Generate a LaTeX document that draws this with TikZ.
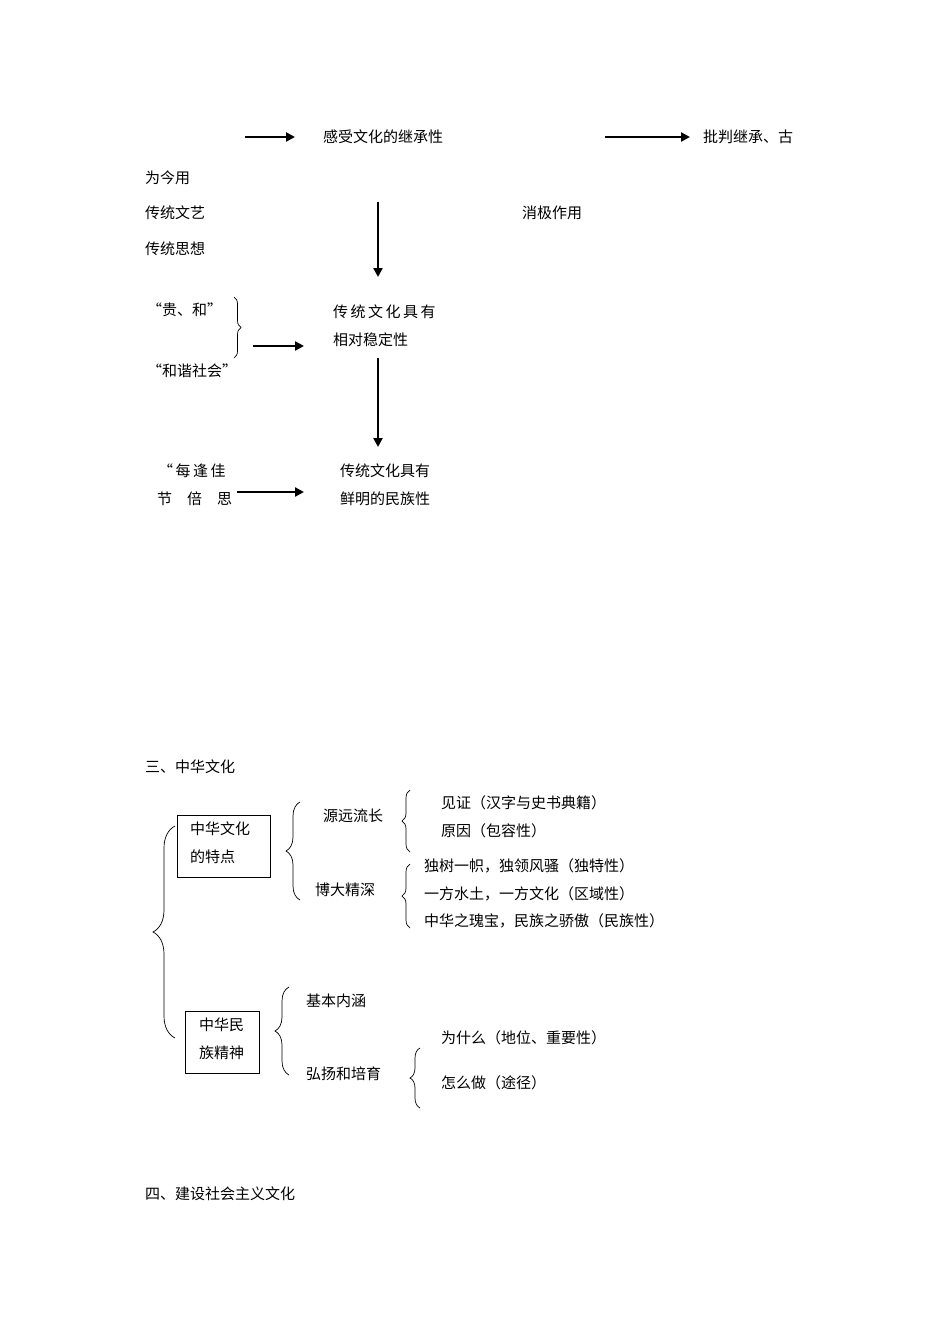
\documentclass[tikz,border=0pt]{standalone}
\usepackage{fontspec}
\setmainfont{Noto Sans CJK SC}
\usetikzlibrary{arrows.meta,decorations.pathreplacing}
\begin{document}
\begin{tikzpicture}[x=1pt,y=-1pt,
  t/.style={anchor=west,inner sep=0pt,font=\fontsize{15}{18}\selectfont},
  arr/.style={line width=2.6pt,-{Triangle[length=9pt,width=9pt]}},
  br/.style={decorate,decoration={brace,amplitude=#1},line width=0.7pt},
  bx/.style={draw,line width=1pt,minimum width=0pt,inner sep=0pt}]
\useasboundingbox[fill=white] (0,0) rectangle (950,1344);
% top part
\coordinate (a1s) at (245,137); \coordinate (a1e) at (295,137);
\draw[arr] (a1s) -- (a1e);
\node[t] (gs) at (323,137) {感受文化的继承性};
\coordinate (a2s) at (605,137); \coordinate (a2e) at (690,137);
\draw[arr] (a2s) -- (a2e);
\node[t] (pp) at (703,137) {批判继承、古};
\node[t] (wj) at (145,178) {为今用};
\node[t] (wy) at (145,213) {传统文艺};
\node[t] (sx) at (145,249) {传统思想};
\node[t] (xj) at (522,213) {消极作用};
\coordinate (d1s) at (378,202); \coordinate (d1e) at (378,277);
\draw[arr] (d1s) -- (d1e);
\node[t] (gh) at (147,310) {“贵、和”};
\node[t] (hx) at (147,371) {“和谐社会”};
\draw[br=7pt] (234,297) -- (234,358);
\coordinate (a3s) at (253,346); \coordinate (a3e) at (304,346);
\draw[arr] (a3s) -- (a3e);
\node[t] (wd1) at (333,312) {传\,统\,文\,化\,具\,有};
\node[t] (wd2) at (333,340) {相对稳定性};
\coordinate (d2s) at (378,358); \coordinate (d2e) at (378,447);
\draw[arr] (d2s) -- (d2e);
\node[t] (mf1) at (158,471) {“\,每\,逢\,佳};
\node[t] (mf2) at (157,499) {节\quad 倍\quad 思};
\coordinate (a4s) at (237,492); \coordinate (a4e) at (304,492);
\draw[arr] (a4s) -- (a4e);
\node[t] (mz1) at (340,471) {传统文化具有};
\node[t] (mz2) at (340,499) {鲜明的民族性};
% section 3
\node[t] (s3) at (145,767) {三、中华文化};
\node[bx,minimum width=93pt,minimum height=62pt] (b1) at (223.5,846) {};
\node[t] at (190,829) {中华文化};
\node[t] at (190,857) {的特点};
\draw[br=22pt] (175,1038) -- (175,826);
\draw[br=14pt] (300,900) -- (300,802);
\node[t] (yy) at (323,816) {源远流长};
\draw[br=8pt] (410,852) -- (410,790);
\node[t] at (441,803) {见证（汉字与史书典籍）};
\node[t] at (441,831) {原因（包容性）};
\node[t] (bd) at (315,890) {博大精深};
\draw[br=8pt] (410,928) -- (410,864);
\node[t] at (424,866) {独树一帜，独领风骚（独特性）};
\node[t] at (424,894) {一方水土，一方文化（区域性）};
\node[t] at (424,921) {中华之瑰宝，民族之骄傲（民族性）};
\node[bx,minimum width=74pt,minimum height=62pt] (b2) at (222,1042) {};
\node[t] at (199,1025) {中华民};
\node[t] at (199,1053) {族精神};
\draw[br=14pt] (289,1075) -- (289,987);
\node[t] (jb) at (306,1001) {基本内涵};
\node[t] (hy) at (306,1074) {弘扬和培育};
\draw[br=10pt] (420,1108) -- (420,1048);
\node[t] at (441,1038) {为什么（地位、重要性）};
\node[t] at (441,1083) {怎么做（途径）};
\node[t] (s4) at (145,1194) {四、建设社会主义文化};
\end{tikzpicture}
\end{document}
